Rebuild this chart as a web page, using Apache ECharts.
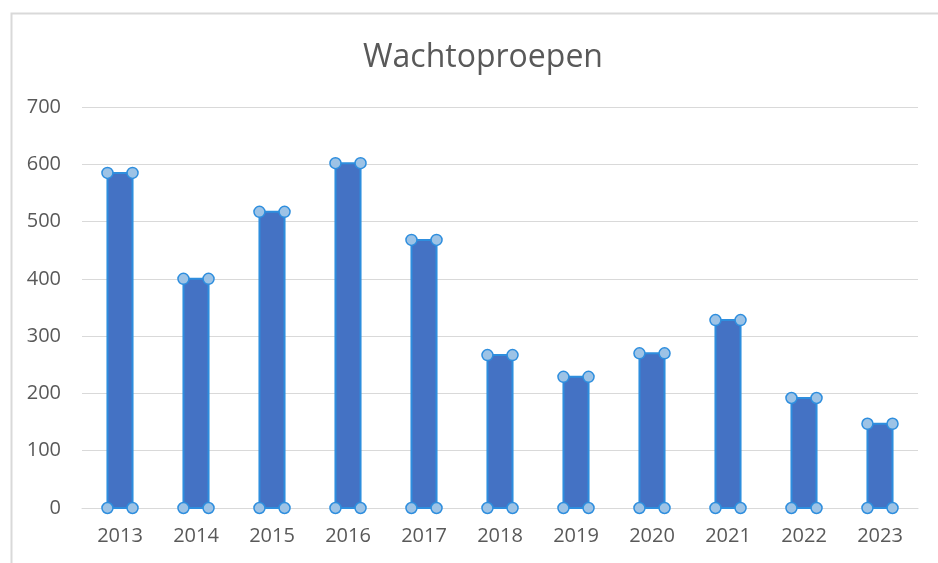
<!DOCTYPE html>
<html>
<head>
<meta charset="utf-8">
<script src="https://cdn.jsdelivr.net/npm/echarts@6/dist/echarts.min.js"></script>
<style>
  html, body { margin: 0; padding: 0; background: #fff; }
  #main { width: 938px; height: 563px; }
</style>
</head>
<body>
<div id="main"></div>
<script>
const years = ['2013', '2014', '2015', '2016', '2017', '2018', '2019', '2020', '2021', '2022', '2023'];
const calls = [585, 400, 517, 602, 468, 267, 229, 270, 328, 192, 147];
const yTicks = [0, 100, 200, 300, 400, 500, 600, 700];

const chart = echarts.init(document.getElementById('main'));

// bar plus the little selection handles on each corner
function renderBar(params, api) {
  const i = api.value(0);
  const top = api.coord([i, api.value(1)]);
  const base = api.coord([i, 0]);
  const w = api.size([1, 0])[0] * 0.33;
  const x0 = top[0] - w / 2, x1 = top[0] + w / 2;
  const handle = (cx, cy) => ({
    type: 'circle',
    shape: { cx: cx, cy: cy, r: 5.5 },
    style: { fill: '#9dc3e6', stroke: '#2e8ede', lineWidth: 1.5 }
  });
  return {
    type: 'group',
    children: [
      {
        type: 'rect',
        shape: { x: x0, y: top[1], width: w, height: base[1] - top[1] },
        style: { fill: '#4472c4', stroke: '#2e8ede', lineWidth: 2 }
      },
      handle(x0, top[1]), handle(x1, top[1]),
      handle(x0, base[1]), handle(x1, base[1])
    ]
  };
}

const option = {
  backgroundColor: '#fff',
  textStyle: { fontFamily: 'Open Sans' },
  title: {
    text: 'Wachtoproepen',
    left: 358,
    top: 37,
    textStyle: { fontSize: 32, fontWeight: 'normal', color: '#595959', fontFamily: 'Open Sans' }
  },
  graphic: [{
    type: 'rect',
    left: 9, top: 11,
    shape: { width: 1000, height: 600 },
    style: { fill: 'none', stroke: '#d9d9d9', lineWidth: 2 },
    silent: true
  }],
  grid: { left: 82, right: 20, top: 107, bottom: 55 },
  xAxis: {
    type: 'category',
    data: years,
    axisLine: { show: true, lineStyle: { color: '#d9d9d9' } },
    axisTick: { show: false },
    axisLabel: { color: '#595959', fontSize: 20, margin: 18 }
  },
  yAxis: {
    type: 'value',
    min: yTicks[0],
    max: yTicks[yTicks.length - 1],
    interval: 100,
    axisLine: { show: false },
    axisTick: { show: false },
    axisLabel: { color: '#595959', fontSize: 20, margin: 21 },
    splitLine: { lineStyle: { color: '#d9d9d9' } }
  },
  series: [{
    type: 'custom',
    renderItem: renderBar,
    encode: { x: 0, y: 1 },
    data: calls.map((v, i) => [i, v]),
    z: 5
  }]
};

option && chart.setOption(option);
</script>
</body>
</html>
